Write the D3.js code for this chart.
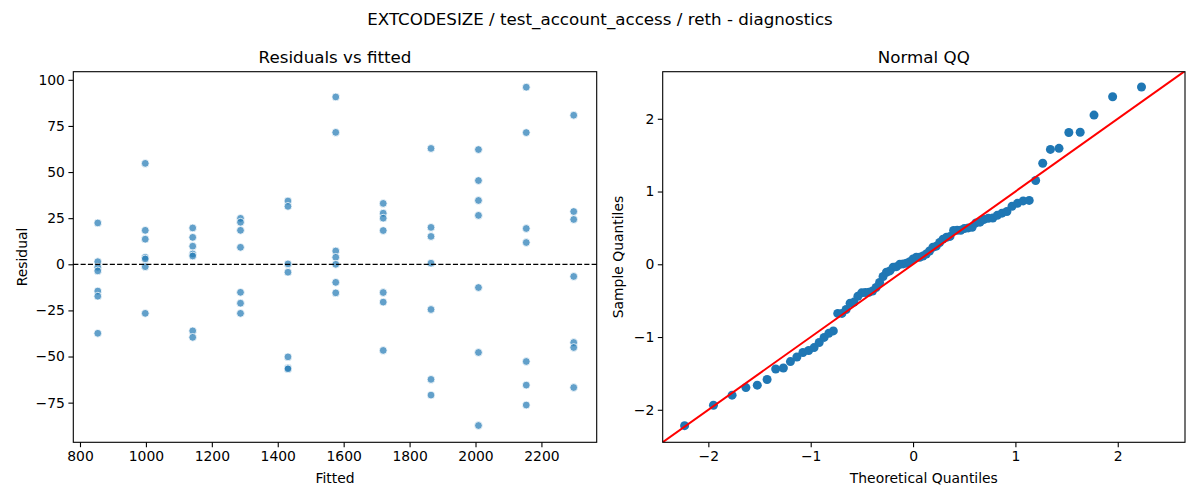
<!DOCTYPE html>
<html>
<head>
<meta charset="utf-8">
<script src="https://cdn.jsdelivr.net/npm/d3@7"></script>
<style>
  body { margin: 0; background: #fff; }
  svg { font-family: "DejaVu Sans", sans-serif; }
</style>
</head>
<body>
<div id="chart"></div>
<script>
// fitted values (one column of points per fitted value)
var fitted = [854, 998, 1142, 1287, 1431, 1576, 1720, 1865, 2009, 2154, 2298];

// residuals for each fitted value, same order as fitted
var residuals = [
  [22.4, 1.4, -1.6, -3.6, -14.5, -17.3, -37.4],
  [54.7, 18.4, 13.6, 3.8, 2.9, -1.3, -26.6],
  [19.7, 14.6, 9.8, 5.6, 4.5, -36.1, -39.6],
  [24.9, 22.8, 18.4, 9.2, -15.2, -21.1, -26.6],
  [34.3, 31.4, 0.2, -4.3, -50.2, -56.2, -56.7],
  [90.7, 71.5, 7.2, 3.8, 0, -9.8, -15.5],
  [33.0, 27.7, 25.0, 18.3, -15.3, -20.5, -46.7],
  [62.8, 20.0, 15.1, 0.6, -24.5, -62.4, -70.9],
  [62.2, 45.4, 34.6, 26.5, -12.6, -47.8, -87.4],
  [96.0, 71.4, 19.4, 11.8, -52.7, -65.5, -76.3],
  [80.8, 28.6, 24.3, -6.6, -42.4, -45.1, -66.8]
];

// normal QQ: theoretical quantiles and sample quantiles
var theoretical = [
  -2.232, -1.950, -1.768, -1.633, -1.522, -1.426, -1.342, -1.267, -1.198, -1.135,
  -1.076, -1.020, -0.967, -0.917, -0.869, -0.823, -0.779, -0.736, -0.695, -0.654,
  -0.615, -0.577, -0.539, -0.502, -0.466, -0.431, -0.396, -0.361, -0.327, -0.293,
  -0.260, -0.227, -0.194, -0.161, -0.129, -0.097, -0.064, -0.032, 0,
  0.032, 0.064, 0.097, 0.129, 0.161, 0.194, 0.227, 0.260, 0.293, 0.327,
  0.361, 0.396, 0.431, 0.466, 0.502, 0.539, 0.577, 0.615, 0.654, 0.695,
  0.736, 0.779, 0.823, 0.869, 0.917, 0.967, 1.020, 1.076, 1.135, 1.198,
  1.267, 1.342, 1.426, 1.522, 1.633, 1.768, 1.950, 2.232
];
var sample = [
  -2.218, -1.937, -1.799, -1.695, -1.662, -1.584, -1.439, -1.426, -1.338, -1.274,
  -1.213, -1.185, -1.145, -1.076, -1.005, -0.949, -0.916, -0.675, -0.675, -0.622,
  -0.536, -0.520, -0.439, -0.393, -0.388, -0.386, -0.368, -0.320, -0.249, -0.168,
  -0.109, -0.091, -0.041, -0.033, 0.000, 0.005, 0.015, 0.036, 0.074,
  0.096, 0.096, 0.114, 0.142, 0.183, 0.234, 0.249, 0.299, 0.345, 0.371,
  0.383, 0.464, 0.467, 0.467, 0.492, 0.500, 0.508, 0.569, 0.579, 0.617,
  0.632, 0.635, 0.673, 0.703, 0.726, 0.797, 0.838, 0.871, 0.878, 1.152,
  1.388, 1.579, 1.594, 1.812, 1.815, 2.051, 2.302, 2.437
];

var resTicksX = [800, 1000, 1200, 1400, 1600, 1800, 2000, 2200];
var resTicksY = [-75, -50, -25, 0, 25, 50, 75, 100];
var qqTicks = [-2, -1, 0, 1, 2];

// panel geometry
var fig_w = 1200, fig_h = 500;
var ax_top = 71.7, ax_bottom = 442.3;
var ax1_left = 73.3, ax1_right = 596.7;
var ax2_left = 662.7, ax2_right = 1185;

var svg = d3.select("#chart").append("svg")
    .attr("width", fig_w)
    .attr("height", fig_h);

var fmt = function(d) { return d < 0 ? "\u2212" + Math.abs(d) : String(d); };

// suptitle
svg.append("text")
    .attr("x", 600)
    .attr("y", 24.5)
    .attr("text-anchor", "middle")
    .style("font-size", "16.7px")
    .text("EXTCODESIZE / test_account_access / reth - diagnostics");

// ---------- Residuals vs fitted ----------
var xRes = d3.scaleLinear().domain([779.7, 2367.7]).range([ax1_left, ax1_right]);
var yRes = d3.scaleLinear().domain([-96.5, 104.4]).range([ax_bottom, ax_top]);

var g1 = svg.append("g");

var points = [];
fitted.forEach(function(f, i) {
  residuals[i].forEach(function(r) { points.push({f: f, r: r}); });
});

g1.selectAll("circle")
  .data(points)
  .enter()
  .append("circle")
    .attr("cx", function(d) { return xRes(d.f); })
    .attr("cy", function(d) { return yRes(d.r); })
    .attr("r", 3.9)
    .attr("fill", "#1f77b4")
    .attr("fill-opacity", 0.7)
    .attr("stroke", "#fff")
    .attr("stroke-width", 0.8);

// zero line
g1.append("line")
    .attr("x1", ax1_left).attr("x2", ax1_right)
    .attr("y1", yRes(0)).attr("y2", yRes(0))
    .attr("stroke", "#000")
    .attr("stroke-width", 1.3)
    .attr("stroke-dasharray", "5.1,2.2");

g1.append("g")
    .attr("transform", "translate(0," + ax_bottom + ")")
    .call(d3.axisBottom(xRes).tickValues(resTicksX).tickSize(4.9).tickPadding(3.5).tickFormat(fmt));

g1.append("g")
    .attr("transform", "translate(" + ax1_left + ",0)")
    .call(d3.axisLeft(yRes).tickValues(resTicksY).tickSize(4.9).tickPadding(3.5).tickFormat(fmt));

g1.append("rect")
    .attr("x", ax1_left).attr("y", ax_top)
    .attr("width", ax1_right - ax1_left).attr("height", ax_bottom - ax_top)
    .attr("fill", "none").attr("stroke", "#000").attr("stroke-width", 1.1);

g1.append("text")
    .attr("x", (ax1_left + ax1_right) / 2).attr("y", 63)
    .attr("text-anchor", "middle")
    .style("font-size", "16.7px")
    .text("Residuals vs fitted");

g1.append("text")
    .attr("x", (ax1_left + ax1_right) / 2).attr("y", 483)
    .attr("text-anchor", "middle")
    .style("font-size", "13.9px")
    .text("Fitted");

g1.append("text")
    .attr("transform", "translate(27," + (ax_top + ax_bottom) / 2 + ") rotate(-90)")
    .attr("text-anchor", "middle")
    .style("font-size", "13.9px")
    .text("Residual");

// ---------- Normal QQ ----------
var xQQ = d3.scaleLinear().domain([-2.446, 2.657]).range([ax2_left, ax2_right]);
var yQQ = d3.scaleLinear().domain([-2.447, 2.647]).range([ax_bottom, ax_top]);

var g2 = svg.append("g");

g2.append("clipPath").attr("id", "qqclip")
  .append("rect")
    .attr("x", ax2_left).attr("y", ax_top)
    .attr("width", ax2_right - ax2_left).attr("height", ax_bottom - ax_top);

g2.selectAll("circle")
  .data(theoretical)
  .enter()
  .append("circle")
    .attr("cx", function(d) { return xQQ(d); })
    .attr("cy", function(d, i) { return yQQ(sample[i]); })
    .attr("r", 4.5)
    .attr("fill", "#1f77b4");

// 45 degree reference line
var lineEnds = [-2.7, 2.7];
g2.append("line")
    .attr("clip-path", "url(#qqclip)")
    .attr("x1", xQQ(lineEnds[0])).attr("y1", yQQ(lineEnds[0]))
    .attr("x2", xQQ(lineEnds[1])).attr("y2", yQQ(lineEnds[1]))
    .attr("stroke", "red")
    .attr("stroke-width", 2);

g2.append("g")
    .attr("transform", "translate(0," + ax_bottom + ")")
    .call(d3.axisBottom(xQQ).tickValues(qqTicks).tickSize(4.9).tickPadding(3.5).tickFormat(fmt));

g2.append("g")
    .attr("transform", "translate(" + ax2_left + ",0)")
    .call(d3.axisLeft(yQQ).tickValues(qqTicks).tickSize(4.9).tickPadding(3.5).tickFormat(fmt));

g2.append("rect")
    .attr("x", ax2_left).attr("y", ax_top)
    .attr("width", ax2_right - ax2_left).attr("height", ax_bottom - ax_top)
    .attr("fill", "none").attr("stroke", "#000").attr("stroke-width", 1.1);

g2.append("text")
    .attr("x", (ax2_left + ax2_right) / 2).attr("y", 63)
    .attr("text-anchor", "middle")
    .style("font-size", "16.7px")
    .text("Normal QQ");

g2.append("text")
    .attr("x", (ax2_left + ax2_right) / 2).attr("y", 483)
    .attr("text-anchor", "middle")
    .style("font-size", "13.9px")
    .text("Theoretical Quantiles");

g2.append("text")
    .attr("transform", "translate(623," + (ax_top + ax_bottom) / 2 + ") rotate(-90)")
    .attr("text-anchor", "middle")
    .style("font-size", "13.9px")
    .text("Sample Quantiles");

// axis styling to match
svg.selectAll(".domain").remove();
svg.selectAll(".tick line").attr("stroke", "#000").attr("stroke-width", 1.1);
svg.selectAll(".tick text")
    .attr("fill", "#000")
    .style("font-size", "13.9px")
    .style("font-family", "DejaVu Sans, sans-serif");
</script>
</body>
</html>
